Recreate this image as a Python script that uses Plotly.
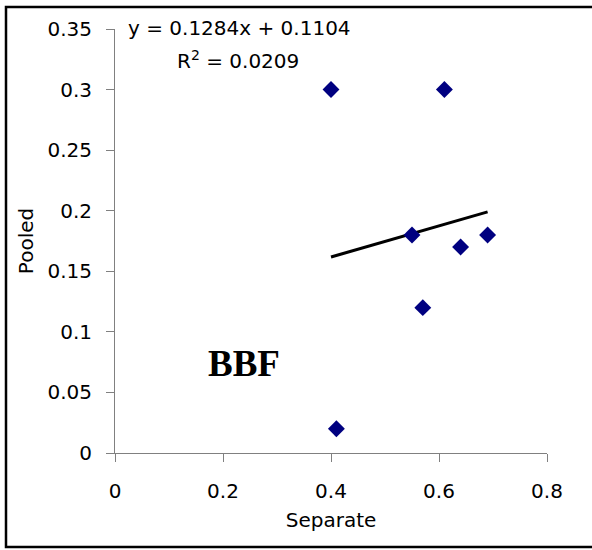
import plotly.graph_objects as go

separate = [0.40, 0.61, 0.55, 0.57, 0.64, 0.69, 0.41]
pooled = [0.30, 0.30, 0.18, 0.12, 0.17, 0.18, 0.02]
slope = 0.1284
intercept = 0.1104
trend_x = [0.40, 0.69]
trend_y = [slope * x + intercept for x in trend_x]
x_ticks = [0, 0.2, 0.4, 0.6, 0.8]
y_ticks = [0, 0.05, 0.1, 0.15, 0.2, 0.25, 0.3, 0.35]

W, H = 592, 550
L, R, T, B = 115, 45, 29, 97
pw, ph = W - L - R, H - T - B

def px(xp):
    return (xp - L) / pw

def py(yp):
    return (H - B - yp) / ph

font = "DejaVu Sans, Liberation Sans, Arial, sans-serif"
fs = 20

fig = go.Figure()
fig.add_trace(go.Scatter(x=trend_x, y=trend_y, mode="lines",
                         line=dict(color="black", width=3), hoverinfo="skip"))
fig.add_trace(go.Scatter(x=separate, y=pooled, mode="markers",
                         marker=dict(symbol="diamond", size=13, color="#000080")))

fig.update_layout(
    width=W, height=H,
    margin=dict(l=L, r=R, t=T, b=B),
    paper_bgcolor="white", plot_bgcolor="white",
    showlegend=False,
    font=dict(family=font, size=fs, color="black"),
    xaxis=dict(range=[0, 0.8], tickvals=x_ticks, ticktext=["0", "0.2", "0.4", "0.6", "0.8"],
               showgrid=False, zeroline=False, showline=True, linecolor="#808080", linewidth=1,
               ticks="outside", ticklen=8, tickcolor="#808080", ticklabelstandoff=12,
               title=dict(text="Separate", font=dict(size=fs), standoff=10)),
    yaxis=dict(range=[0, 0.35], tickvals=y_ticks,
               ticktext=["0", "0.05", "0.1", "0.15", "0.2", "0.25", "0.3", "0.35"],
               showgrid=False, zeroline=False, showline=True, linecolor="#808080", linewidth=1,
               ticks="outside", ticklen=8, tickcolor="#808080", ticklabelstandoff=10,
               title=dict(text="Pooled", font=dict(size=fs), standoff=8)),
    shapes=[dict(type="rect", xref="paper", yref="paper",
                 x0=px(6), x1=px(605), y0=py(547), y1=py(7),
                 line=dict(color="black", width=2.5))],
    annotations=[
        dict(text="y = 0.1284x + 0.1104", xref="paper", yref="paper",
             x=px(126), y=py(28), xanchor="left", yanchor="middle", showarrow=False,
             font=dict(size=fs)),
        dict(text="R<sup>2</sup> = 0.0209", xref="paper", yref="paper",
             x=px(175), y=py(60), xanchor="left", yanchor="middle", showarrow=False,
             font=dict(size=fs)),
        dict(text="<b>BBF</b>", xref="paper", yref="paper",
             x=px(206), y=py(363), xanchor="left", yanchor="middle", showarrow=False,
             font=dict(size=37, family="Liberation Serif, Times New Roman, serif")),
    ],
)

fig.write_html("out.html")
